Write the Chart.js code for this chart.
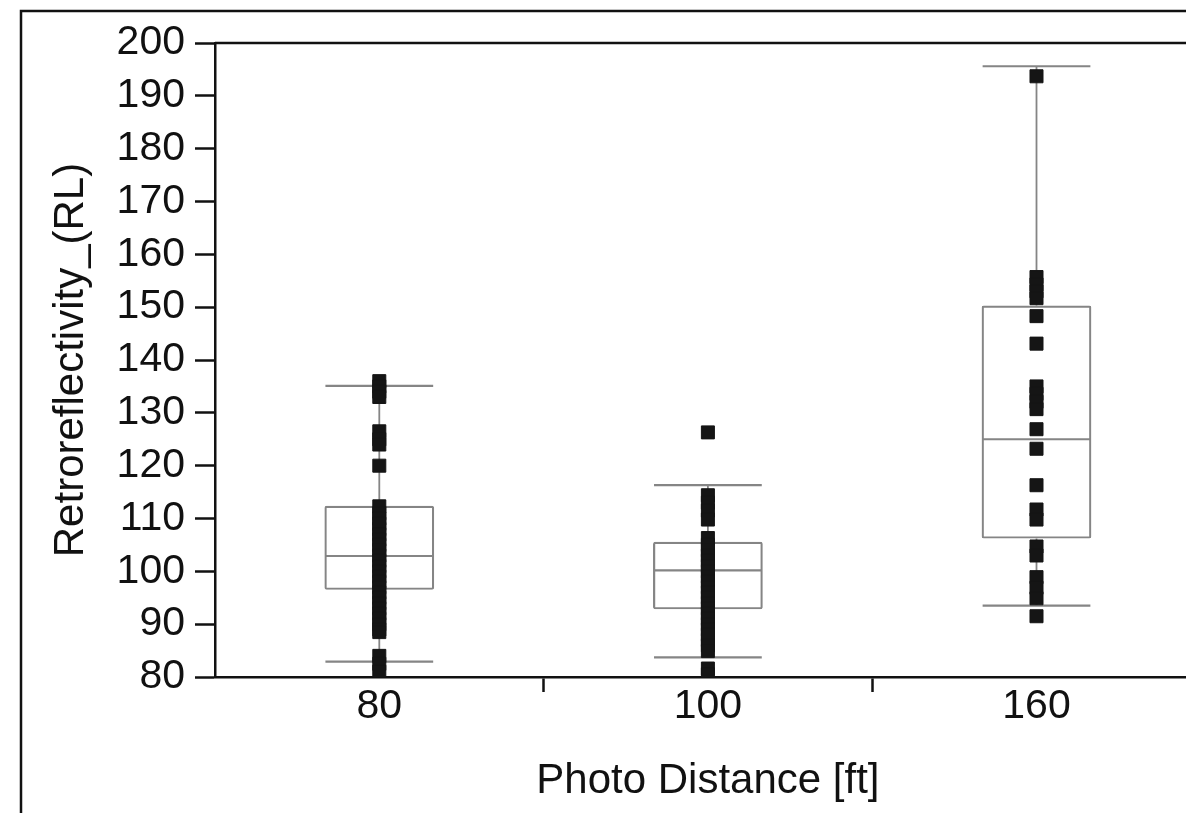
<!DOCTYPE html>
<html>
<head>
<meta charset="utf-8">
<script src="https://cdn.jsdelivr.net/npm/chart.js@4.4.1/dist/chart.umd.min.js"></script>
<style>
  html, body { margin: 0; padding: 0; background: #fff; overflow: hidden; }
  #c { position: absolute; left: 0; top: 0; }
</style>
</head>
<body>
<canvas id="c" width="1211" height="813"></canvas>
<script>
// ---- data ----
const categories = ['80', '100', '160'];
const rl80  = [136, 135, 134, 133, 126.5, 125, 124, 120,
               112.3, 111, 110, 109, 108, 107, 106, 105, 104, 103, 102, 101, 100,
               99, 98, 97, 96, 95, 94, 93, 92, 91, 90, 89, 88.5, 84, 82.5, 81];
const rl100 = [126.3, 114.4, 113, 111.5, 109.8,
               106.3, 105, 104, 103, 102, 101, 100, 99, 98, 97, 96, 95, 94, 93,
               92, 91, 90, 89, 88, 87, 86, 84.9, 81.6, 80.5];
const rl160 = [193.7, 155.7, 154.3, 153, 151.7, 148.3, 143.1,
               135, 133.6, 132.1, 130.7, 126.9, 123.2, 116.3, 111.7, 109.8,
               104.7, 103, 98.9, 96.9, 94.9, 91.5];
const pointsByCategory = [rl80, rl100, rl160];
const whiskerHigh = [135.1, 116.3, 195.6];
const q3          = [112.4, 105.6, 150.3];
const median      = [102.9, 100.2, 125.0];
const q1          = [96.5, 92.8, 106.2];
const whiskerLow  = [82.9, 83.7, 93.5];
const yTickMin = 80, yTickMax = 200, yTickStep = 10;

const FONT = '"Liberation Sans", Arial, Helvetica, sans-serif';
const BOX_COLOR = '#858585';
const BAR_PCT = 0.334;

const scatterData = [];
pointsByCategory.forEach((arr, i) => arr.forEach(v => scatterData.push({x: categories[i], y: v})));

const boxExtras = {
  id: 'boxExtras',
  beforeDatasetsDraw(chart) {
    const {ctx, scales: {x, y}} = chart;
    const step = x.getPixelForValue(1) - x.getPixelForValue(0);
    const half = step * BAR_PCT / 2;
    ctx.save();
    categories.forEach((c, i) => {
      const cx = x.getPixelForValue(i);
      ctx.strokeStyle = BOX_COLOR;
      ctx.lineWidth = 1.8;
      ctx.beginPath();
      ctx.moveTo(cx, y.getPixelForValue(whiskerHigh[i]));
      ctx.lineTo(cx, y.getPixelForValue(q3[i]));
      ctx.moveTo(cx, y.getPixelForValue(q1[i]));
      ctx.lineTo(cx, y.getPixelForValue(whiskerLow[i]));
      ctx.stroke();
      ctx.lineWidth = 2.2;
      ctx.beginPath();
      [whiskerHigh[i], whiskerLow[i], median[i]].forEach(v => {
        const py = y.getPixelForValue(v);
        ctx.moveTo(cx - half + 1, py);
        ctx.lineTo(cx + half - 1, py);
      });
      ctx.stroke();
    });
    ctx.restore();
  },
  afterDraw(chart) {
    const {ctx, chartArea, width, height} = chart;
    ctx.save();
    ctx.strokeStyle = '#111';
    ctx.lineWidth = 2.5;
    ctx.beginPath();
    ctx.moveTo(21, height + 5);
    ctx.lineTo(21, 11);
    ctx.lineTo(width + 5, 11);
    ctx.stroke();
    ctx.beginPath();
    ctx.moveTo(chartArea.left, chartArea.top);
    ctx.lineTo(width + 5, chartArea.top);
    ctx.stroke();
    ctx.restore();
  }
};

new Chart(document.getElementById('c'), {
  data: {
    labels: categories,
    datasets: [
      {
        type: 'scatter',
        data: scatterData,
        pointStyle: 'rect',
        pointRadius: 9.2,
        pointHoverRadius: 9.2,
        backgroundColor: '#151515',
        borderColor: '#151515',
        borderWidth: 1,
        showLine: false,
        clip: 0,
        order: 1
      },
      {
        type: 'bar',
        data: categories.map((c, i) => [q1[i], q3[i]]),
        backgroundColor: 'rgba(0,0,0,0)',
        borderColor: BOX_COLOR,
        borderWidth: 2.2,
        borderSkipped: false,
        borderRadius: 2,
        barPercentage: BAR_PCT,
        categoryPercentage: 1,
        order: 2
      }
    ]
  },
  options: {
    responsive: false,
    animation: false,
    events: [],
    layout: { padding: { left: 42, top: 43, right: 0, bottom: 0 } },
    plugins: { legend: { display: false }, tooltip: { enabled: false } },
    scales: {
      x: {
        type: 'category',
        offset: true,
        afterFit(s) { s.height = 813 - 677; },
        border: { display: true, color: '#111', width: 2.5 },
        grid: {
          display: true, offset: true, drawOnChartArea: false, drawTicks: true,
          tickLength: 15, tickWidth: 2.5,
          tickColor: (ctx) => (ctx.index === 0 ? 'rgba(0,0,0,0)' : '#111')
        },
        ticks: { color: '#111', padding: 0, font: { family: FONT, size: 41, lineHeight: 0.7 } },
        title: {
          display: true, text: 'Photo Distance [ft]', color: '#111',
          font: { family: FONT, size: 42 }, padding: { top: 0, bottom: 6 }
        }
      },
      y: {
        type: 'linear',
        min: yTickMin, max: yTickMax,
        afterFit(s) { s.width = 215 - 42; },
        border: { display: true, color: '#111', width: 2.5 },
        grid: { display: true, drawOnChartArea: false, drawTicks: true, tickLength: 20, tickWidth: 2.5, tickColor: '#111' },
        ticks: { stepSize: yTickStep, color: '#111', padding: 10, font: { family: FONT, size: 41 } },
        title: {
          display: true, text: 'Retroreflectivity_(RL)', color: '#111',
          font: { family: FONT, size: 42 }, padding: { top: 4, bottom: 0 }
        }
      }
    }
  },
  plugins: [boxExtras]
});
</script>
</body>
</html>
